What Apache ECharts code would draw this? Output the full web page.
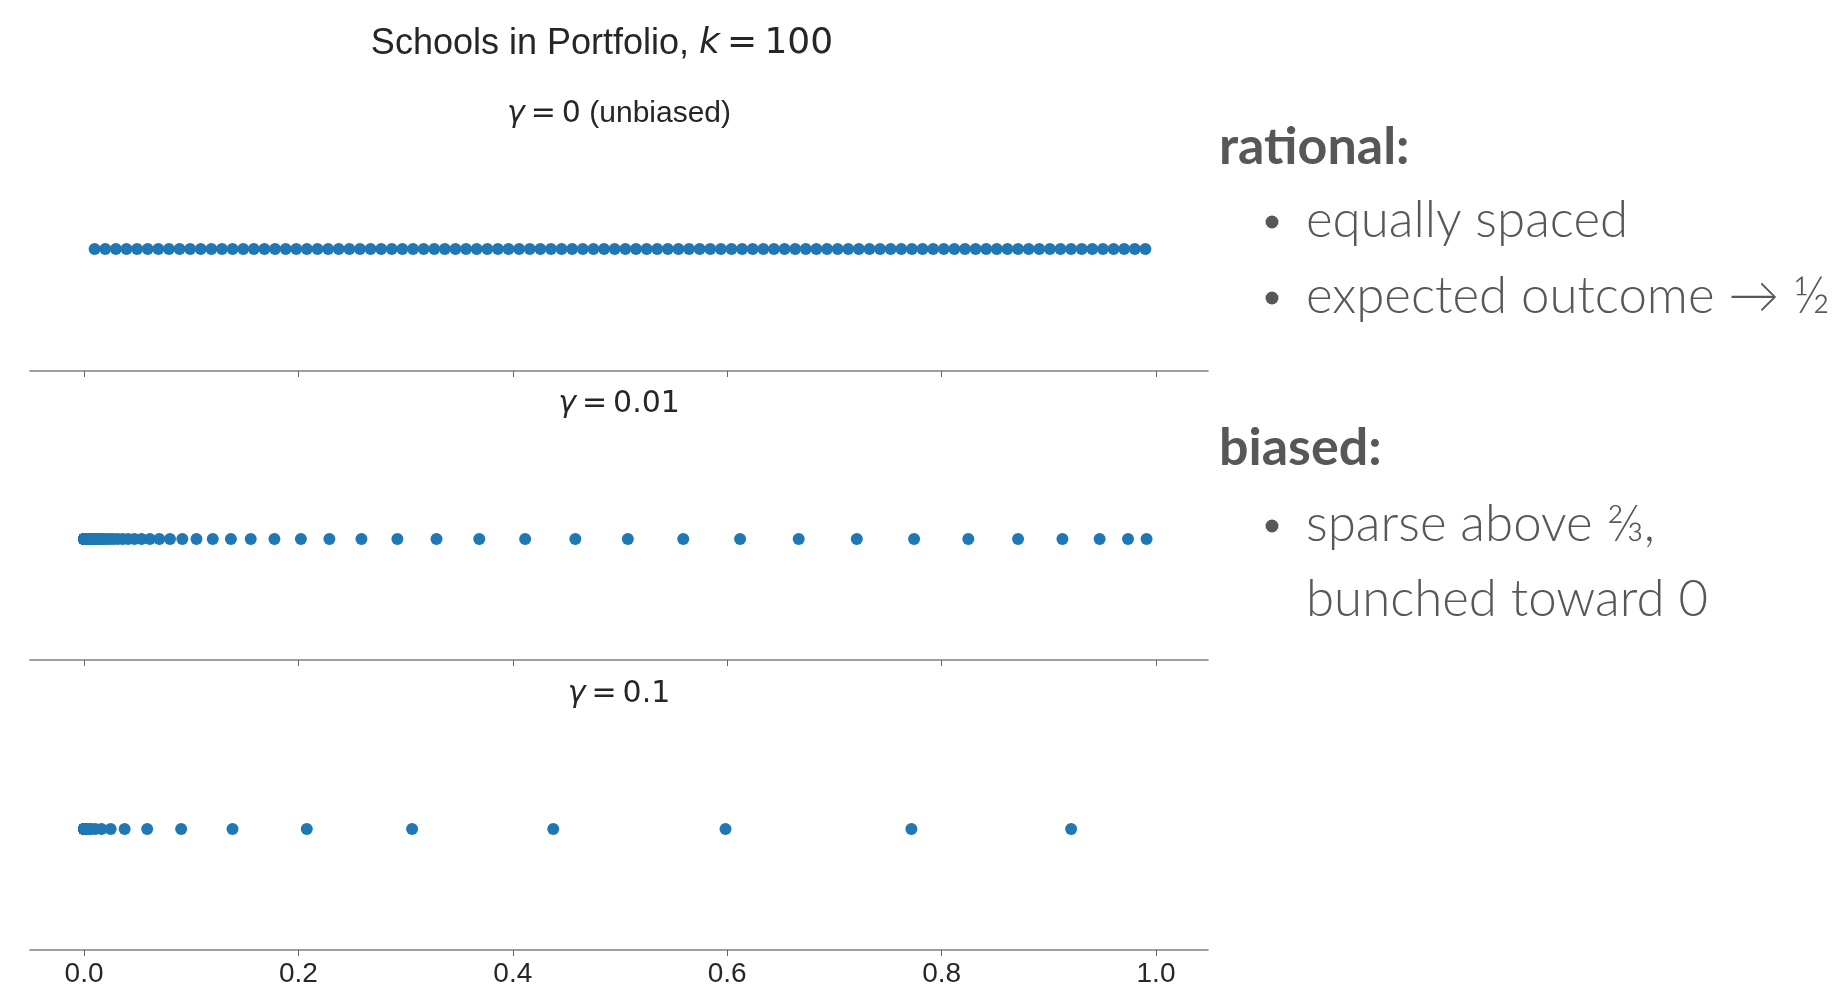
<!DOCTYPE html>
<html>
<head>
<meta charset="utf-8">
<script src="https://cdn.jsdelivr.net/npm/echarts@6/dist/echarts.min.js"></script>
<style>
html,body{margin:0;padding:0;background:#fff;}
#main{width:1833px;height:985px;}
</style>
</head>
<body>
<div id="main"></div>
<script>
// ---------- data ----------
const xTicks = [0, 0.2, 0.4, 0.6, 0.8, 1.0];

const panelTitles = [
  {gamma: '0', note: ' (unbiased)'},
  {gamma: '0.01', note: ''},
  {gamma: '0.1', note: ''}
];

// gamma = 0 : equally spaced
const rational = [
  0.0099, 0.0198, 0.0297, 0.0396, 0.0495, 0.0594, 0.0693, 0.0792, 0.0891, 0.0990,
  0.1089, 0.1188, 0.1287, 0.1386, 0.1485, 0.1584, 0.1683, 0.1782, 0.1881, 0.1980,
  0.2079, 0.2178, 0.2277, 0.2376, 0.2475, 0.2574, 0.2673, 0.2772, 0.2871, 0.2970,
  0.3069, 0.3168, 0.3267, 0.3366, 0.3465, 0.3564, 0.3663, 0.3762, 0.3861, 0.3960,
  0.4059, 0.4158, 0.4257, 0.4356, 0.4455, 0.4554, 0.4653, 0.4752, 0.4851, 0.4950,
  0.5050, 0.5149, 0.5248, 0.5347, 0.5446, 0.5545, 0.5644, 0.5743, 0.5842, 0.5941,
  0.6040, 0.6139, 0.6238, 0.6337, 0.6436, 0.6535, 0.6634, 0.6733, 0.6832, 0.6931,
  0.7030, 0.7129, 0.7228, 0.7327, 0.7426, 0.7525, 0.7624, 0.7723, 0.7822, 0.7921,
  0.8020, 0.8119, 0.8218, 0.8317, 0.8416, 0.8515, 0.8614, 0.8713, 0.8812, 0.8911,
  0.9010, 0.9109, 0.9208, 0.9307, 0.9406, 0.9505, 0.9604, 0.9703, 0.9802, 0.9901
];

// gamma = 0.01
const biased001 = [
  0.000004, 0.000005, 0.000006, 0.000007, 0.000008, 0.000009, 0.00001, 0.000011, 0.000013, 0.000015,
  0.000017, 0.00002, 0.000023, 0.000026, 0.00003, 0.000035, 0.00004, 0.000045, 0.00005, 0.00006,
  0.00007, 0.00008, 0.00009, 0.0001, 0.00012, 0.00013, 0.00015, 0.00018, 0.0002, 0.00023,
  0.00027, 0.0003, 0.00035,
  0.0004, 0.00045, 0.0005, 0.0006, 0.0007, 0.0008, 0.0009, 0.0010, 0.0011, 0.0013,
  0.0015, 0.0017, 0.0019, 0.0022, 0.0025, 0.0028, 0.0032, 0.0037, 0.0042, 0.0048,
  0.0055, 0.0063, 0.0072, 0.0083, 0.0095, 0.0108, 0.0124, 0.0141, 0.0161, 0.0184,
  0.0211, 0.0241, 0.0275, 0.0315, 0.0360, 0.0411, 0.0470, 0.0537, 0.0614, 0.0702,
  0.0802, 0.0917, 0.1049, 0.1201, 0.1370, 0.1555, 0.1776, 0.2023, 0.2289, 0.2588,
  0.2923, 0.3288, 0.3687, 0.4115, 0.4583, 0.5073, 0.5590, 0.6120, 0.6667, 0.7209,
  0.7743, 0.8249, 0.8713, 0.9127, 0.9474, 0.9739, 0.9912
];

// gamma = 0.1
const biased01 = [
  0, 0, 0, 0, 0, 0, 0, 0, 0, 0, 0, 0, 0, 0, 0, 0, 0, 0, 0, 0, 0, 0, 0, 0, 0,
  0, 0, 0, 0, 0, 0, 0, 0, 0, 0, 0, 0, 0, 0, 0, 0, 0, 0, 0, 0, 0, 0, 0, 0, 0,
  0, 0, 0, 0, 0, 0, 0, 0, 0, 0, 0, 0, 0, 0, 0, 0, 0, 0, 0, 0, 0, 0, 0, 0, 0,
  0.0001, 0.0001, 0.0002, 0.0002, 0.0004, 0.0005, 0.0008, 0.0013, 0.0019, 0.0030,
  0.0045, 0.0069, 0.0106, 0.0163,
  0.0249, 0.0379, 0.0589, 0.0906, 0.1385, 0.2078, 0.3060, 0.4377, 0.5984, 0.7718, 0.9208
];

const panels = [rational, biased001, biased01];

// ---------- layout ----------
const GRID_LEFT = 30, GRID_WIDTH = 1178;
const gridTops = [127, 418, 708];
const gridHeights = [244, 242, 242];
const X_MIN = -0.0504, X_MAX = 1.0485;
const DOT = '#1f77b4';

const chart = echarts.init(document.getElementById('main'), null, {renderer: 'canvas'});

const grids = [], xAxes = [], yAxes = [], series = [];
panels.forEach((vals, i) => {
  grids.push({
    left: GRID_LEFT, width: GRID_WIDTH, top: gridTops[i], height: gridHeights[i],
    containLabel: false, outerBoundsMode: 'none'
  });
  xAxes.push({
    type: 'value', gridIndex: i, min: X_MIN, max: X_MAX, position: 'bottom',
    axisLine: {show: true, onZero: false, lineStyle: {color: '#808080', width: 1.6}},
    axisTick: {show: true, length: 6, customValues: xTicks, lineStyle: {color: '#666666', width: 1}},
    axisLabel: {
      show: i === panels.length - 1, customValues: xTicks, margin: 10,
      fontFamily: 'Liberation Sans', fontSize: 28, color: '#262626',
      formatter: v => v.toFixed(1)
    },
    splitLine: {show: false}
  });
  yAxes.push({type: 'value', gridIndex: i, min: -1, max: 1, show: false});
  series.push({
    type: 'scatter', xAxisIndex: i, yAxisIndex: i,
    data: vals.map(v => [v, 0]),
    symbol: 'circle', symbolSize: 12,
    itemStyle: {color: DOT, opacity: 1},
    silent: true
  });
});

const textColor = '#262626';
const graphics = [];
// main title
graphics.push({
  type: 'text', x: 602, y: 44,
  style: {
    text: '{a|Schools in Portfolio, }{k|k}{m|\u2009=\u2009100}',
    textAlign: 'center', textVerticalAlign: 'middle',
    rich: {
      a: {fontFamily: 'Liberation Sans', fontSize: 36, fill: textColor},
      k: {fontFamily: 'DejaVu Sans', fontStyle: 'italic', fontSize: 36, fill: textColor},
      m: {fontFamily: 'DejaVu Sans', fontSize: 36, fill: textColor}
    }
  }
});
// panel titles
const subY = [114, 404, 694];
panelTitles.forEach((t, i) => {
  graphics.push({
    type: 'text', x: GRID_LEFT + GRID_WIDTH / 2, y: subY[i],
    style: {
      text: '{g|γ}{m|\u2009=\u2009' + t.gamma + '}' + (t.note ? '{a|' + t.note + '}' : ''),
      textAlign: 'center', textVerticalAlign: 'middle',
      rich: {
        g: {fontFamily: 'DejaVu Sans', fontStyle: 'italic', fontSize: 30, fill: textColor},
        m: {fontFamily: 'DejaVu Sans', fontSize: 30, fill: textColor},
        a: {fontFamily: 'Liberation Sans', fontSize: 30, fill: textColor}
      }
    }
  });
});

// right-hand notes
const noteFont = 'Lato, "Noto Sans", sans-serif';
const noteColor = '#575757';
const headings = [
  {text: 'rational:', y: 147},
  {text: 'biased:', y: 448}
];
const bullets = [
  {text: 'equally spaced', y: 221, bullet: true},
  {text: 'expected outcome → ½', y: 297, bullet: true},
  {text: 'sparse above ⅔,', y: 525, bullet: true},
  {text: 'bunched toward 0', y: 600, bullet: false}
];
headings.forEach(h => graphics.push({
  type: 'text', x: 1219, y: h.y,
  style: {text: h.text, font: 'bold 52px ' + noteFont, fill: noteColor, textAlign: 'left', textVerticalAlign: 'middle'}
}));
bullets.forEach(b => {
  if (b.bullet) graphics.push({
    type: 'circle', shape: {cx: 1272, cy: b.y + 1, r: 6.5}, style: {fill: noteColor}
  });
  graphics.push({
    type: 'text', x: 1306, y: b.y,
    style: {text: b.text, font: '300 51px ' + noteFont, fill: noteColor, textAlign: 'left', textVerticalAlign: 'middle'}
  });
});

chart.setOption({
  animation: false,
  backgroundColor: '#ffffff',
  grid: grids, xAxis: xAxes, yAxis: yAxes, series: series,
  graphic: graphics
});
</script>
</body>
</html>
